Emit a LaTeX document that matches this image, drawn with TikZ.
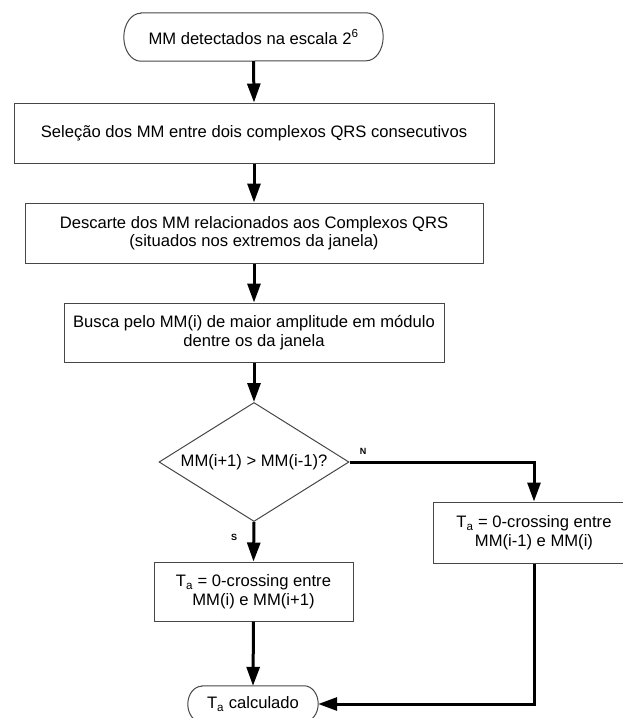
\documentclass[tikz,border=0pt]{standalone}
\usepackage{fontspec}
\setmainfont{Liberation Sans}
\usetikzlibrary{arrows.meta,shapes.geometric}

% Stadium-shaped outline around a (borderless) node: #1 name, #2 end radius, #3 half height
\newcommand{\stadiumoutline}[3]{%
  \draw[boxline] ([xshift=#2]#1.north west) -- ([xshift=-#2]#1.north east)
    arc[start angle=90, end angle=-90, x radius=#2, y radius=#3]
    -- ([xshift=#2]#1.south west)
    arc[start angle=270, end angle=90, x radius=#2, y radius=#3] -- cycle;}

\begin{document}
\begin{tikzpicture}[x=1pt, y=-1pt,
  every node/.style={font=\fontsize{16.6pt}{18.5pt}\selectfont, text=black},
  boxline/.style={draw=black!72, line width=1pt},
  procbox/.style={rectangle, boxline, inner sep=0pt, align=center},
  termbox/.style={rectangle, draw=none, inner sep=0pt},
  decision/.style={diamond, boxline, inner sep=0pt, aspect=1.6},
  flow/.style={line width=3pt, -{Triangle[length=19pt, width=13pt]}},
  branchlabel/.style={font=\fontsize{9pt}{10pt}\selectfont\bfseries, inner sep=0pt}]

  \useasboundingbox (0,0) rectangle (623,718);

  % start terminator
  \node[termbox, minimum width=259pt, minimum height=48pt] (start) at (253.5,37)
    {MM detectados na escala 2\textsuperscript{6}};
  \stadiumoutline{start}{17pt}{24pt}

  % processing steps
  \node[procbox, minimum width=480pt, minimum height=60pt] (sel) at (254,133)
    {Seleção dos MM entre dois complexos QRS consecutivos};
  \node[procbox, minimum width=458pt, minimum height=60pt] (desc) at (254,233)
    {Descarte dos MM relacionados aos Complexos QRS\\(situados nos extremos da janela)};
  \node[procbox, minimum width=380pt, minimum height=59pt] (busca) at (254,332.5)
    {Busca pelo MM(i) de maior amplitude em módulo\\dentre os da janela};

  % decision
  \node[decision, minimum width=190pt, minimum height=119pt] (dec) at (254,462)
    {MM(i+1) > MM(i-1)?};

  % branch results
  \node[procbox, minimum width=199pt, minimum height=59pt] (yes) at (253.5,591.5)
    {T\textsubscript{a} = 0-crossing entre\\MM(i) e MM(i+1)};
  \node[procbox, minimum width=202pt, minimum height=61pt] (no) at (534,532.5)
    {T\textsubscript{a} = 0-crossing entre\\MM(i-1) e MM(i)};

  % end terminator
  \node[termbox, minimum width=130pt, minimum height=36pt] (stop) at (253,704)
    {T\textsubscript{a} calculado};
  \stadiumoutline{stop}{14pt}{18pt}

  % connectors
  \draw[flow] (start.south) -- (sel.north);
  \draw[flow] (sel.south) -- (desc.north);
  \draw[flow] (desc.south) -- (busca.north);
  \draw[flow] (busca.south) -- (dec.north);
  \draw[flow] (dec.south) -- (yes.north);
  \draw[flow] (dec.east) -| (no.north);
  \draw[flow] (yes.south) -- (stop.north);
  \draw[flow] (no.south) |- (stop.east);

  % branch labels
  \node[branchlabel] (lblN) at (363,451) {N};
  \node[branchlabel] (lblS) at (234,537) {S};
\end{tikzpicture}
\end{document}
